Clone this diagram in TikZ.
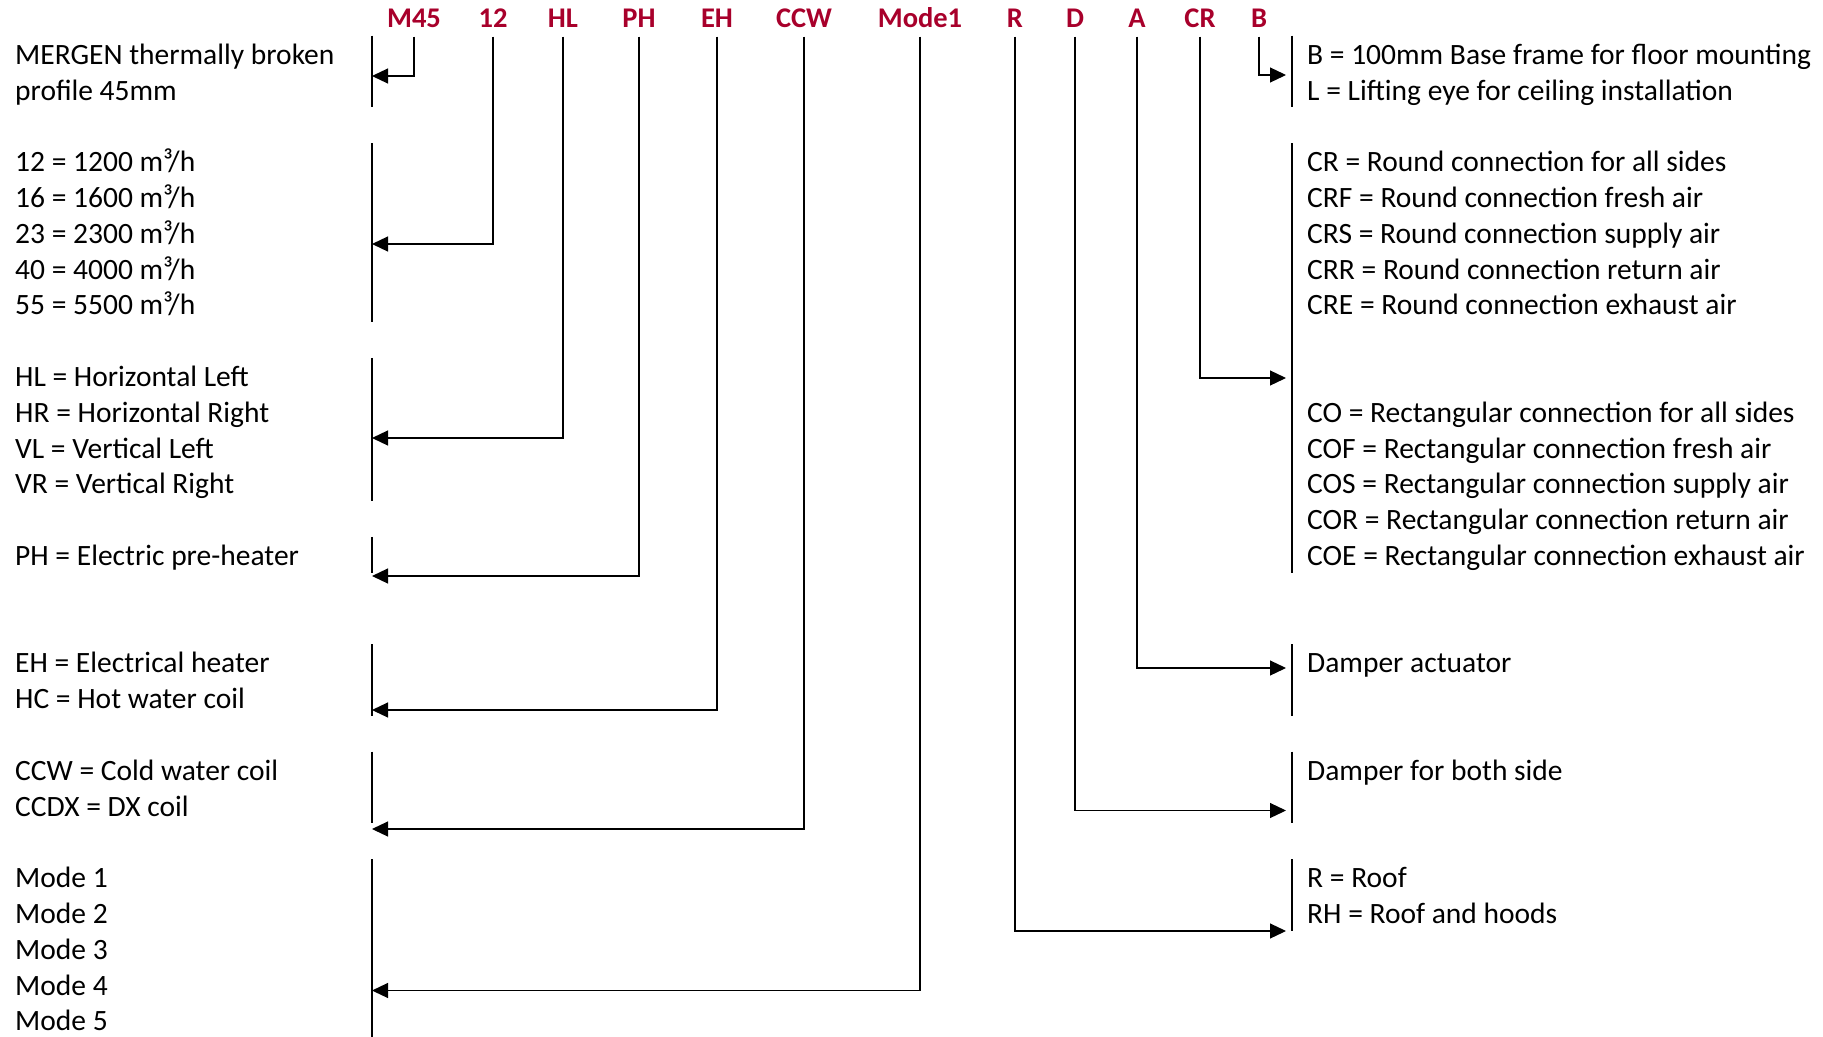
\documentclass[tikz,border=0pt]{standalone}
\usepackage{fontspec}
\setmainfont{Carlito}
\usetikzlibrary{arrows.meta}
\definecolor{codered}{HTML}{A8002B}

\begin{document}
\begin{tikzpicture}[x=1pt, y=-1pt,
    hdr/.style={font=\fontsize{28.5}{34}\selectfont\bfseries, text=codered, inner sep=0pt, text depth=0pt, outer ysep=9pt, anchor=base},
    txt/.style={font=\fontsize{29.5}{35.8}\selectfont, inner sep=0pt, anchor=base west},
    bar/.style={line width=1.2pt},
    lead/.style={line width=1.2pt, arrows=-{Triangle[length=16pt, width=15pt]}}]
    \useasboundingbox (0,0) rectangle (1823,1036);
    \def\lbar{372};
    \def\rbar{1292};
    \def\rtip{1286};
    \def\base{64.3};
    \def\dy{35.8};

    % code letters
    \foreach \h/\x in {M45/414, 12/493, HL/563, PH/639, EH/717, CCW/804, Mode1/920, R/1015, D/1075, A/1137, CR/1200, B/1259}
        \node[hdr] (h\h) at (\x,27.5) {\h};

    % left column
    \foreach \r/\t in {0/MERGEN thermally broken, 1/profile 45mm,
            3/{12 = 1200 m³/h}, 4/{16 = 1600 m³/h}, 5/{23 = 2300 m³/h}, 6/{40 = 4000 m³/h}, 7/{55 = 5500 m³/h},
            9/HL = Horizontal Left, 10/HR = Horizontal Right, 11/VL = Vertical Left, 12/VR = Vertical Right,
            14/PH = Electric pre-heater,
            17/EH = Electrical heater, 18/HC = Hot water coil,
            20/CCW = Cold water coil, 21/CCDX = DX coil,
            23/Mode 1, 24/Mode 2, 25/Mode 3, 26/Mode 4, 27/Mode 5}
        \node[txt] (left\r) at (15,{\base+\dy*\r}) {\t};

    % right column
    \foreach \r/\t in {0/B = 100mm Base frame for floor mounting, 1/L = Lifting eye for ceiling installation,
            3/CR = Round connection for all sides, 4/CRF = Round connection fresh air, 5/CRS = Round connection supply air,
            6/CRR = Round connection return air, 7/CRE = Round connection exhaust air,
            10/CO = Rectangular connection for all sides, 11/COF = Rectangular connection fresh air,
            12/COS = Rectangular connection supply air, 13/COR = Rectangular connection return air,
            14/COE = Rectangular connection exhaust air,
            17/Damper actuator, 20/Damper for both side,
            23/R = Roof, 24/RH = Roof and hoods}
        \node[txt] (right\r) at (1307,{\base+\dy*\r}) {\t};

    % group bars
    \foreach \a/\b in {-0.5/1.5, 2.5/7.5, 8.5/12.5, 13.5/14.5, 16.5/18.5, 19.5/21.5, 22.5/27.6}
        \draw[bar] (\lbar,{53.5+\dy*\a}) -- (\lbar,{53.5+\dy*\b});
    \foreach \a/\b in {-0.5/1.5, 2.5/14.5, 16.5/18.5, 19.5/21.5, 22.5/24.5}
        \draw[bar] (\rbar,{53.5+\dy*\a}) -- (\rbar,{53.5+\dy*\b});

    % leaders
    \foreach \h/\y in {M45/76, 12/244, HL/438, PH/576, EH/710, CCW/829, Mode1/990.5} {
        \coordinate (in\h) at (\lbar,\y);
        \draw[lead] (h\h.south) |- (in\h);
    }
    \foreach \h/\y in {B/75, CR/378, A/668, D/810.5, R/931} {
        \coordinate (in\h) at (\rtip,\y);
        \draw[lead] (h\h.south) |- (in\h);
    }
\end{tikzpicture}
\end{document}
